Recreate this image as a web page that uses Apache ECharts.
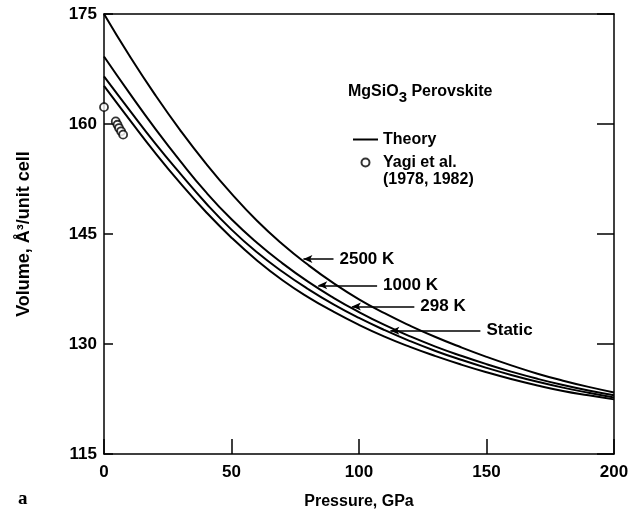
<!DOCTYPE html>
<html>
<head>
<meta charset="utf-8">
<script src="https://cdn.jsdelivr.net/npm/echarts@6/dist/echarts.min.js"></script>
<style>
html,body{margin:0;padding:0;background:#fff;}
#c{width:638px;height:515px;}
</style>
</head>
<body>
<div id="c"></div>
<script>
// ---- data ----
const pressure = [0,10,20,30,40,50,60,70,80,90,100,110,120,130,140,150,160,170,180,190,200];
const v2500  = [175.0,169.3,164.0,159.1,154.6,150.5,146.8,143.6,140.8,138.3,136.1,134.2,132.5,130.95,129.55,128.25,127.05,125.95,125.0,124.15,123.4];
const v1000  = [169.2,164.2,159.4,154.9,150.7,147.0,143.8,141.0,138.5,136.3,134.35,132.6,131.05,129.65,128.4,127.25,126.2,125.25,124.4,123.65,123.0];
const v298   = [166.5,161.9,157.4,153.2,149.2,145.6,142.5,139.85,137.5,135.4,133.55,131.9,130.4,129.05,127.85,126.75,125.75,124.85,124.05,123.35,122.7];
const vStatic= [165.2,160.6,156.1,151.9,148.0,144.5,141.4,138.7,136.4,134.4,132.6,131.0,129.6,128.35,127.2,126.15,125.2,124.35,123.6,123.0,122.45];
const yagiP = [0, 4.6, 5.3, 5.9, 6.7, 7.5];
const yagiV = [162.3, 160.35, 159.9, 159.45, 159.0, 158.55];
const curveLabels = ['2500 K','1000 K','298 K','Static'];
const arrowTipP = [78.2, 84.0, 97.2, 112.3];
const arrowEndP = [90.0, 107.1, 121.7, 147.6];
const arrowV    = [141.6, 138.0, 135.1, 131.8];
const xTicks = [0,50,100,150,200];
const yTicks = [115,130,145,160,175];

const FONT = '"Liberation Sans", Arial, Helvetica, sans-serif';
const curves = [v2500, v1000, v298, vStatic];

const chart = echarts.init(document.getElementById('c'), null, {renderer:'canvas'});

const lineSeries = curves.map((vals, i) => ({
  name: 'Theory',
  type: 'line',
  xAxisIndex: 0, yAxisIndex: 0,
  data: pressure.map((p, k) => [p, vals[k]]),
  smooth: 0.5,
  symbol: 'none',
  showSymbol: false,
  lineStyle: {color: '#000', width: 2},
  itemStyle: {color: '#000'},
  z: 3,
  markLine: {
    silent: true,
    symbol: ['arrow', 'none'],
    symbolSize: [6, 9],
    lineStyle: {color: '#000', width: 1.5, type: 'solid'},
    label: {
      show: true, position: 'end', formatter: curveLabels[i],
      color: '#000', fontSize: 17, fontWeight: 'bold', fontFamily: FONT, distance: 6
    },
    data: [[{coord: [arrowTipP[i], arrowV[i]]}, {coord: [arrowEndP[i], arrowV[i]]}]]
  }
}));

const option = {
  animation: false,
  backgroundColor: '#fff',
  grid: {left: 104, right: 24, top: 14, bottom: 60, containLabel: false},
  legend: {
    orient: 'vertical', left: 353, top: 130, padding: 0,
    itemWidth: 25, itemHeight: 8, itemGap: 4,
    textStyle: {fontSize: 16, fontWeight: 'bold', color: '#000', fontFamily: FONT, lineHeight: 19},
    data: [
      {name: 'Theory', icon: 'path://M0,0H25V2H0Z', itemStyle: {color: '#000', borderWidth: 0}},
      {name: 'Yagi et al.'}
    ],
    selectedMode: false
  },
  xAxis: [{
    type: 'value', min: 0, max: 200, interval: 50, position: 'bottom',
    axisLine: {show: true, onZero: false, lineStyle: {color: '#000', width: 1.5}},
    axisTick: {show: true, inside: true, length: 15, customValues: xTicks, lineStyle: {color: '#000', width: 1.5}},
    axisLabel: {show: true, color: '#000', fontSize: 17, fontWeight: 'bold', fontFamily: FONT, margin: 10, customValues: xTicks},
    splitLine: {show: false},
    name: 'Pressure, GPa', nameLocation: 'middle', nameGap: 40,
    nameTextStyle: {color: '#000', fontSize: 16, fontWeight: 'bold', fontFamily: FONT}
  }, {
    type: 'value', min: 0, max: 200, interval: 50, position: 'top',
    axisLine: {show: true, onZero: false, lineStyle: {color: '#000', width: 1.5}},
    axisTick: {show: false}, axisLabel: {show: false}, splitLine: {show: false}
  }],
  yAxis: [{
    type: 'value', min: 115, max: 175, interval: 15, position: 'left',
    axisLine: {show: true, onZero: false, lineStyle: {color: '#000', width: 1.5}},
    axisTick: {show: true, inside: true, length: 9, customValues: yTicks, lineStyle: {color: '#000', width: 1.5}},
    axisLabel: {show: true, color: '#000', fontSize: 17, fontWeight: 'bold', fontFamily: FONT, margin: 7, customValues: yTicks},
    splitLine: {show: false},
    name: 'Volume, Å³/unit cell', nameLocation: 'middle', nameGap: 71, nameRotate: 90,
    nameTextStyle: {color: '#000', fontSize: 18, fontWeight: 'bold', fontFamily: FONT}
  }, {
    type: 'value', min: 115, max: 175, interval: 15, position: 'right',
    axisLine: {show: true, onZero: false, lineStyle: {color: '#000', width: 1.5}},
    axisTick: {show: true, inside: true, length: 17, customValues: yTicks, lineStyle: {color: '#000', width: 1.5}},
    axisLabel: {show: false}, splitLine: {show: false}
  }],
  series: lineSeries.concat([{
    name: 'Yagi et al.',
    type: 'scatter',
    xAxisIndex: 0, yAxisIndex: 0,
    data: yagiP.map((p, k) => [p, yagiV[k]]),
    symbol: 'circle', symbolSize: 8,
    itemStyle: {color: '#fff', borderColor: '#000', borderWidth: 1.8},
    z: 4
  }]),
  graphic: [{
    type: 'text', left: 348, top: 84,
    style: {
      text: '{a|MgSiO}{s|3}{a| Perovskite}',
      rich: {
        a: {fontSize: 16, fontWeight: 'bold', fontFamily: FONT, fill: '#000', verticalAlign: 'bottom', padding: [0,0,5,0]},
        s: {fontSize: 15, fontWeight: 'bold', fontFamily: FONT, fill: '#000', verticalAlign: 'bottom'}
      }
    }
  }, {
    type: 'text', left: 383, top: 172,
    style: {text: '(1978, 1982)', fontSize: 16, fontWeight: 'bold', fontFamily: FONT, fill: '#000'}
  }, {
    type: 'text', left: 18, top: 490,
    style: {text: 'a', fontSize: 19, fontWeight: 'bold', fontFamily: '"Liberation Serif", "Times New Roman", serif', fill: '#000'}
  }]
};
chart.setOption(option);
</script>
</body>
</html>
